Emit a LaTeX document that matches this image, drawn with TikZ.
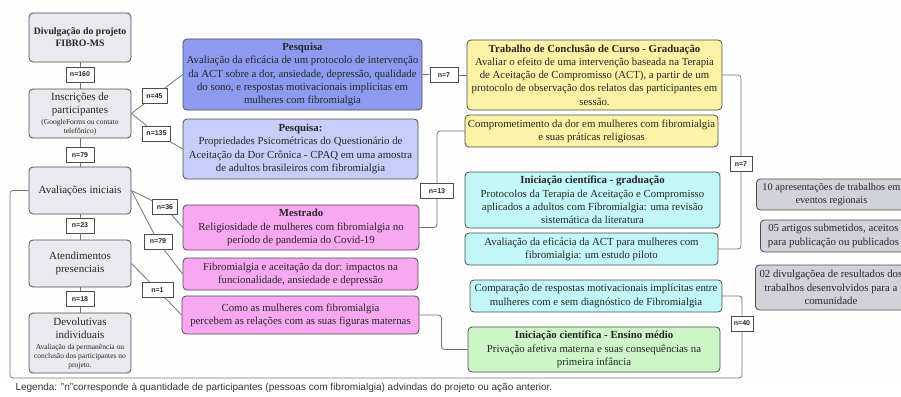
\documentclass[tikz,border=0pt]{standalone}
\usepackage{fontspec}
\setmainfont{Liberation Serif}
\setsansfont{Liberation Sans}
\usepackage{tikz}

\definecolor{cinza}{RGB}{233,233,239}
\definecolor{cinzaesc}{RGB}{210,210,218}
\definecolor{azul}{RGB}{140,154,240}
\definecolor{azulclaro}{RGB}{198,205,247}
\definecolor{rosa}{RGB}{247,168,240}
\definecolor{amarelo}{RGB}{251,242,166}
\definecolor{ciano}{RGB}{194,247,247}
\definecolor{verde}{RGB}{205,245,200}

\newcommand{\pq}[1]{{\fontsize{7.5}{8.5}\selectfont #1}}

\begin{document}
\begin{tikzpicture}[x=1pt,y=-1pt,
    caixa/.style={draw=black!70, rounded corners=4pt, line width=0.8pt, align=center, text=black!85,
                  font=\fontsize{10.8}{13.2}\selectfont, inner sep=2pt},
    esq/.style={caixa, fill=cinza, minimum width=102pt, font=\fontsize{11}{13}\selectfont},
    num/.style={draw=black!70, fill=white, line width=0.7pt, text=black!85,
                font=\sffamily\bfseries\fontsize{7}{8}\selectfont,
                minimum width=28pt, minimum height=15pt, inner sep=1pt},
    every edge/.style={draw=black!55, line width=0.8pt},
    liga/.style={draw=black!55, line width=0.8pt, rounded corners=3pt}]

                    \useasboundingbox (0,0) rectangle (901,396);
                    \clip (0,0) rectangle (901,396);
                    \foreach \y in {4,12,...,380}
                        \draw[black!9, line width=0.8pt, dash pattern=on 0.8pt off 7.2pt] (0,\y) -- (901,\y);

                    \node[esq, minimum height=49pt, font=\bfseries\fontsize{9.8}{12}\selectfont] (div) at (80,37.5) {Divulgação do projeto\\FIBRO-MS};
                    \node[esq, minimum height=49pt] (insc) at (80,113.5) {Inscrições de\\participantes\\[-2pt]\pq{(GoogleForms ou contato}\\[-4pt]\pq{telefônico)}};
                    \node[esq, minimum height=47pt] (aval) at (80,190.5) {Avaliações iniciais};
                    \node[esq, minimum height=47pt] (aten) at (80,263.5) {Atendimentos\\presenciais};
                    \node[esq, minimum height=60pt] (devol) at (80,343) {Devolutivas\\individuais\\[-2pt]\pq{Avaliação da permanência ou}\\[-4pt]\pq{conclusão dos participantes no}\\[-4pt]\pq{projeto.}};

                    \node[caixa, fill=azul, minimum width=239pt, minimum height=71pt] (p1) at (302.5,74.5) {\textbf{Pesquisa}\\Avaliação da eficácia de um protocolo de intervenção\\da ACT sobre a dor, ansiedade, depressão, qualidade\\do sono, e respostas motivacionais implícitas em\\mulheres com fibromialgia};
                    \node[caixa, fill=azulclaro, minimum width=235pt, minimum height=60pt] (p2) at (300.5,149) {\textbf{Pesquisa:}\\Propriedades Psicométricas do Questionário de\\Aceitação da Dor Crônica - CPAQ em uma amostra\\de adultos brasileiros com fibromialgia};
                    \node[caixa, fill=rosa, minimum width=236pt, minimum height=45pt] (mest) at (301,227.5) {\textbf{Mestrado}\\Religiosidade de mulheres com fibromialgia no\\período de pandemia do Covid-19};
                    \node[caixa, fill=rosa, minimum width=235pt, minimum height=32pt] (fib) at (300.5,274) {Fibromialgia e aceitação da dor: impactos na\\funcionalidade, ansiedade e depressão};
                    \node[caixa, fill=rosa, minimum width=237pt, minimum height=38pt] (como) at (300.5,315) {Como as mulheres com fibromialgia\\percebem as relações com as suas figuras maternas};

                    \node[caixa, fill=amarelo, minimum width=255pt, minimum height=70pt] (tcc) at (594.5,75) {\textbf{Trabalho de Conclusão de Curso - Graduação}\\Avaliar o efeito de uma intervenção baseada na Terapia\\de Aceitação de Compromisso (ACT), a partir de um\\protocolo de observação dos relatos das participantes em\\sessão.};
                    \node[caixa, fill=amarelo, minimum width=253pt, minimum height=32pt] (comp) at (591.5,131) {Comprometimento da dor em mulheres com fibromialgia\\e suas práticas religiosas};
                    \node[caixa, fill=ciano, minimum width=255pt, minimum height=56pt] (icg) at (592.5,200) {\textbf{Iniciação científica - graduação}\\Protocolos da Terapia de Aceitação e Compromisso\\aplicados a adultos com Fibromialgia: uma revisão\\sistemática da literatura};
                    \node[caixa, fill=ciano, minimum width=253pt, minimum height=32pt] (pil) at (591.5,249) {Avaliação da eficácia da ACT para mulheres com\\fibromialgia: um estudo piloto};
                    \node[caixa, fill=ciano, minimum width=252pt, minimum height=32pt] (cmp) at (596,296) {Comparação de respostas motivacionais implícitas entre\\mulheres com e sem diagnóstico de Fibromialgia};
                    \node[caixa, fill=verde, minimum width=252pt, minimum height=45pt] (em) at (594,349.5) {\textbf{Iniciação científica - Ensino médio}\\Privação afetiva materna e suas consequências na\\primeira infância};

                    \node[caixa, fill=cinzaesc, anchor=west, minimum width=150pt, minimum height=31pt, inner xsep=1pt, font=\fontsize{10.3}{13}\selectfont] (r1) at (756,194.5) {10 apresentações de trabalhos em\\eventos regionais};
                    \node[caixa, fill=cinzaesc, anchor=west, minimum width=146pt, minimum height=32pt] (r2) at (760,236) {05 artigos submetidos, aceitos\\para publicação ou publicados};
                    \node[caixa, fill=cinzaesc, anchor=west, minimum width=151pt, minimum height=45pt, inner xsep=1pt] (r3) at (755,287.5) {02 divulgaçõea de resultados dos\\trabalhos desenvolvidos para a\\comunidade};

                    \node[num] (n160) at (80,74.5) {n=160};
                    \node[num] (n79) at (80,155) {n=79};
                    \node[num] (n23) at (80,225.5) {n=23};
                    \node[num] (n18) at (80,299) {n=18};
                    \node[num, minimum width=25pt] (n45) at (154.5,96) {n=45};
                    \node[num] (n135) at (156.5,133.5) {n=135};
                    \node[num, minimum width=25pt] (n36) at (165,207) {n=36};
                    \node[num] (n79b) at (158,241.5) {n=79};
                    \node[num, minimum width=31pt] (n1) at (157.5,290) {n=1};
                    \node[num] (n7a) at (444,75) {n=7};
                    \node[num, minimum width=33pt] (n13) at (437,191) {n=13};
                    \node[num, minimum width=22pt] (n7b) at (741,164) {n=7};
                    \node[num, minimum width=22pt] (n40) at (742,323.5) {n=40};
                    \coordinate (canto) at (10,378);

                    \path (div) edge (n160);
                    \path (n160) edge (insc);
                    \path (insc) edge (n79);
                    \path (n79) edge (aval);
                    \path (aval) edge (n23);
                    \path (n23) edge (aten);
                    \path (aten) edge (n18);
                    \path (n18) edge (devol);

                    \path (insc.east) edge (n45);
                    \path (n45) edge (p1.west);
                    \path (insc.east) edge (n135);
                    \path (n135) edge (p2.west);
                    \path (aval.east) edge (n36);
                    \path (n36) edge (mest.west);
                    \path (aval.east) edge (n79b);
                    \path (n79b) edge (fib.west);
                    \path (aten.east) edge (n1);
                    \path (n1) edge (como.west);
                    \path (p1.east) edge (n7a);
                    \path (n7a) edge (tcc.west);

                    \draw[liga] (mest.east) -| (n13);
                    \draw[liga] (n13) |- (comp.west);
                    \draw[liga] (tcc.east) -| (n7b);
                    \draw[liga] (n7b) |- (pil.east);
                    \draw[liga] (como.east) -- ++(22,0) |- (em.west);
                    \draw[liga] (aval.west) -| (canto) -| (n40);
                    \draw[liga] (n40) |- (cmp.east);

                    \node[anchor=west, text=black!80, font=\sffamily\fontsize{10}{11}\selectfont] (leg) at (12,388) {Legenda: "n"corresponde à quantidade de participantes (pessoas com fibromialgia) advindas do projeto ou ação anterior.};

                \end{tikzpicture}
\end{document}
